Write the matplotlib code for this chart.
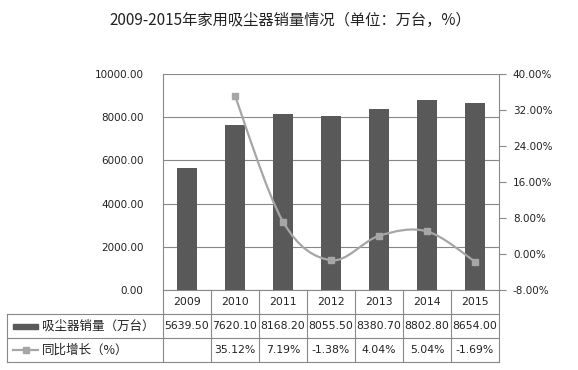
import numpy as np
import matplotlib
matplotlib.use('Agg')
import matplotlib.pyplot as plt
from matplotlib.path import Path
from matplotlib.patches import PathPatch, Rectangle
from matplotlib.lines import Line2D

plt.rcParams['font.family'] = ['Noto Sans CJK SC', 'DejaVu Sans']

# data
years = ['2009', '2010', '2011', '2012', '2013', '2014', '2015']
sales = [5639.50, 7620.10, 8168.20, 8055.50, 8380.70, 8802.80, 8654.00]
growth_years = ['2010', '2011', '2012', '2013', '2014', '2015']
growth = [35.12, 7.19, -1.38, 4.04, 5.04, -1.69]
left_ticks = [0, 2000, 4000, 6000, 8000, 10000]
right_ticks = [-8, 0, 8, 16, 24, 32, 40]
sales_label = '吸尘器销量（万台）'
growth_label = '同比增长（%）'
title = '2009-2015年家用吸尘器销量情况（单位：万台，%）'

bar_color = '#595959'
line_color = '#a6a6a6'
grid_color = '#888888'
text_color = '#222222'

W, H = 578, 370
fig = plt.figure(figsize=(W / 100, H / 100), dpi=100)

# plot area in pixels
L, R, T, B = 163, 499, 74, 290
ax = fig.add_axes([L / W, 1 - B / H, (R - L) / W, (B - T) / H])

x = np.arange(len(years))
ax.bar(x, sales, width=0.4, color=bar_color, zorder=2)
ax.set_xlim(-0.5, len(years) - 0.5)
ax.set_ylim(0, 10000)
ax.set_yticks(left_ticks)
ax.set_yticklabels([f'{v:.2f}' for v in left_ticks], family='DejaVu Sans',
                   fontsize=7.5, color=text_color)
ax.tick_params(axis='y', length=0, pad=14)
ax.set_xticks([])
ax.set_axisbelow(True)
ax.grid(axis='y', color=grid_color, lw=0.8)
for s in ['top', 'right']:
    ax.spines[s].set_visible(False)
ax.spines['left'].set_color(grid_color)
ax.spines['bottom'].set_color(grid_color)

ax2 = ax.twinx()
ax2.set_ylim(-8, 40)
ax2.set_yticks(right_ticks)
ax2.set_yticklabels([f'{v:.2f}%' for v in right_ticks], family='DejaVu Sans',
                    fontsize=7.5, color=text_color)
ax2.tick_params(axis='y', length=5, color=grid_color, pad=5)
for s in ['top', 'left', 'bottom']:
    ax2.spines[s].set_visible(False)
ax2.spines['right'].set_color(grid_color)

# smoothed growth line (bezier through the points, like excel)
gx = np.array([years.index(y) for y in growth_years], dtype=float)
gy = np.array(growth)
pts = np.column_stack([gx, gy])
n = len(pts)
verts = [pts[0]]
codes = [Path.MOVETO]
for i in range(n - 1):
    p_prev = pts[max(i - 1, 0)]
    p_next2 = pts[min(i + 2, n - 1)]
    c1 = pts[i] + (pts[i + 1] - p_prev) / 6
    c2 = pts[i + 1] - (p_next2 - pts[i]) / 6
    verts += [c1, c2, pts[i + 1]]
    codes += [Path.CURVE4] * 3
ax2.add_patch(PathPatch(Path(verts, codes), fill=False, edgecolor=line_color,
                        lw=1.6, zorder=3))
ax2.plot(gx, gy, ls='none', marker='s', ms=4.8, color=line_color, zorder=4)

# title
fig.text(290 / W, 1 - 20 / H, title, ha='center', va='center', fontsize=11,
         color=text_color)


# data table below the axis
def fline(x0, y0, x1, y1, **kw):
    fig.add_artist(Line2D([x0 / W, x1 / W], [1 - y0 / H, 1 - y1 / H],
                          transform=fig.transFigure, **kw))


rows = [290, 314, 338, 362]
colw = (R - L) / len(years)
for y in rows[1:]:
    fline(7, y, R, y, color=grid_color, lw=0.8)
fline(7, rows[1], 7, rows[-1], color=grid_color, lw=0.8)
for i in range(len(years) + 1):
    fline(L + i * colw, rows[0], L + i * colw, rows[-1], color=grid_color, lw=0.8)

for i, yr in enumerate(years):
    cx = (L + (i + 0.5) * colw) / W
    fig.text(cx, 1 - 302 / H, yr, ha='center', va='center', family='DejaVu Sans',
             fontsize=7.8, color=text_color)
    fig.text(cx, 1 - 326 / H, f'{sales[i]:.2f}', ha='center', va='center',
             family='DejaVu Sans', fontsize=7.8, color=text_color)
for yr, g in zip(growth_years, growth):
    i = years.index(yr)
    cx = (L + (i + 0.5) * colw) / W
    fig.text(cx, 1 - 350 / H, f'{g:.2f}%', ha='center', va='center',
             family='DejaVu Sans', fontsize=7.8, color=text_color)

# legend keys in the table
fig.add_artist(Rectangle((13 / W, 1 - 329 / H), 25 / W, 5 / H,
                         transform=fig.transFigure, color=bar_color))
fline(13, 350, 38, 350, color=line_color, lw=1.6)
fig.add_artist(Line2D([25.5 / W], [1 - 350 / H], transform=fig.transFigure,
                      marker='s', ms=4.2, color=line_color, ls='none'))
fig.text(42 / W, 1 - 326 / H, sales_label, ha='left', va='center', fontsize=9,
         color=text_color)
fig.text(42 / W, 1 - 350 / H, growth_label, ha='left', va='center', fontsize=9,
         color=text_color)

fig.savefig('out.png', dpi=100, facecolor='white')
